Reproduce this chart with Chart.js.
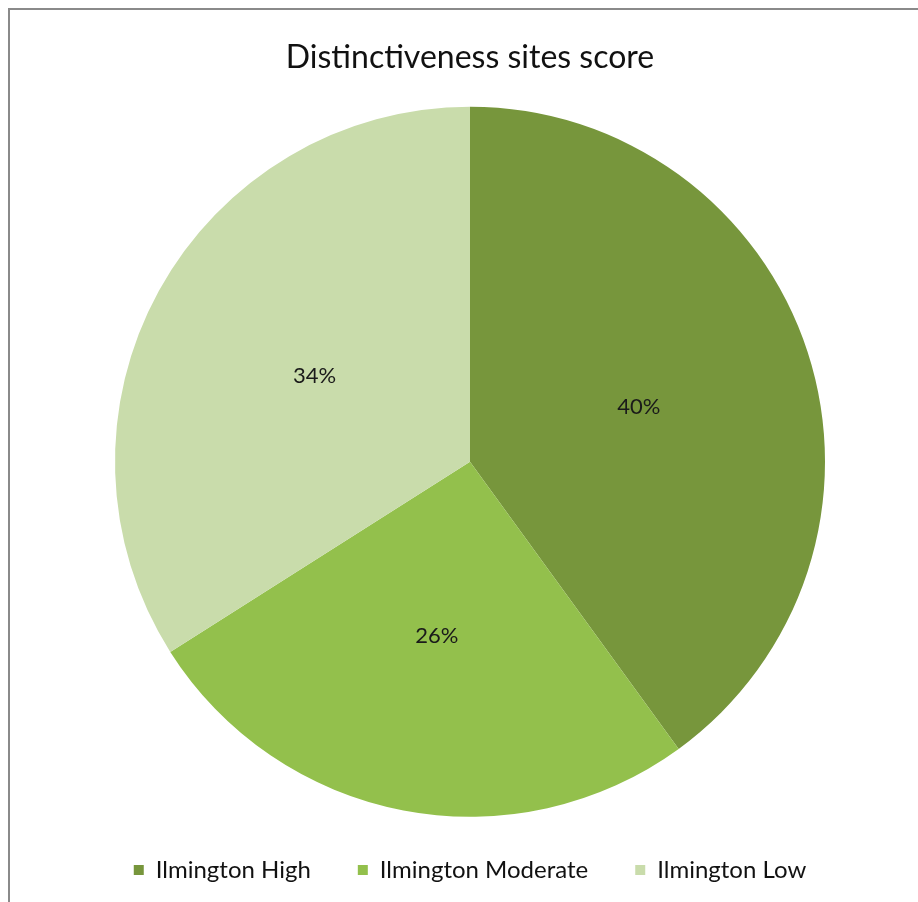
<!DOCTYPE html>
<html>
<head>
<meta charset="utf-8">
<script src="https://cdn.jsdelivr.net/npm/chart.js@4"></script>
<style>
    body { margin: 0; background: #fff; }
    #frame {
        position: absolute; left: 8px; top: 8px; width: 910px; height: 894px;
        border-top: 2px solid #8a8a8a; border-left: 2px solid #8a8a8a;
    }
    #wrap { position: relative; width: 908px; height: 892px; }
</style>
</head>
<body>
<div id="frame"><div id="wrap"><canvas id="pieChart"></canvas></div></div>
<script>
const categories = ['Ilmington High', 'Ilmington Moderate', 'Ilmington Low'];
const shares = [40, 26, 34];
const sliceColors = ['#77963c', '#93c04c', '#c9dcab'];

// draws the "40%" style labels half way out along each slice
const sliceLabels = {
    id: 'sliceLabels',
    afterDatasetsDraw(chart) {
        const ctx = chart.ctx;
        const meta = chart.getDatasetMeta(0);
        ctx.save();
        ctx.font = '22px Lato';
        ctx.fillStyle = '#1a1a1a';
        ctx.textAlign = 'center';
        ctx.textBaseline = 'middle';
        meta.data.forEach((arc, i) => {
            const pos = arc.tooltipPosition();
            ctx.fillText(shares[i] + '%', pos.x, pos.y);
        });
        ctx.restore();
    }
};

const ctx = document.getElementById('pieChart').getContext('2d');
new Chart(ctx, {
    type: 'pie',
    data: {
        labels: categories,
        datasets: [{
            data: shares,
            backgroundColor: sliceColors,
            borderWidth: 0,
            radius: 355
        }]
    },
    options: {
        responsive: true,
        maintainAspectRatio: false,
        animation: false,
        layout: { padding: { left: 12, right: 0, top: 0, bottom: 10 } },
        plugins: {
            title: {
                display: true,
                text: 'Distinctiveness sites score',
                color: '#111',
                font: { family: 'Lato', size: 32, weight: 'normal' },
                padding: { top: 28, bottom: 36 }
            },
            legend: {
                position: 'bottom',
                labels: {
                    boxWidth: 10,
                    boxHeight: 10,
                    padding: 47,
                    color: '#111',
                    font: { family: 'Lato', size: 24 }
                }
            },
            tooltip: { enabled: false }
        }
    },
    plugins: [sliceLabels]
});
</script>
</body>
</html>
